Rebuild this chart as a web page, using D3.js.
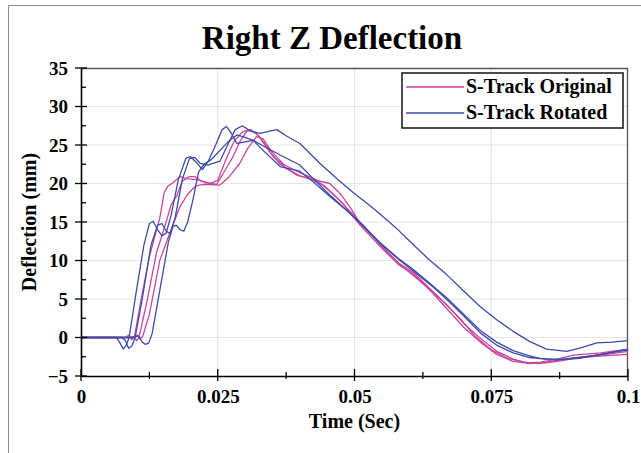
<!DOCTYPE html>
<html>
<head>
<meta charset="utf-8">
<script src="https://cdn.jsdelivr.net/npm/d3@7"></script>
<style>
  body { margin: 0; background: #fff; }
  svg text { font-family: "Liberation Serif", "Times New Roman", serif; font-weight: bold; fill: #000; }
</style>
</head>
<body>
<div id="wrapper"></div>
<script>
// data: [time (s), deflection (mm)]
const seriesNames = ["S-Track Original", "S-Track Rotated"]
const seriesColors = ["#c9469f", "#3c4ca9"]

const originalA = [[0,0],[0.008,0],[0.0088,0.3],[0.0093,-0.3],[0.0098,0.2],[0.011,5],[0.0125,10.5],[0.0144,15.5],[0.0152,18.8],[0.0158,19.6],[0.0168,20.1],[0.0181,20.9],[0.0195,20.6],[0.0212,20.5],[0.023,20.1],[0.0248,19.9],[0.026,21.3],[0.0278,23.5],[0.029,25.4],[0.0303,26.8],[0.0312,26.9],[0.0325,26.2],[0.034,24.6],[0.0364,22.5],[0.0394,21.1],[0.042,20.6],[0.0445,19.7],[0.047,18.0],[0.05,15.8],[0.053,13.4],[0.056,11.0],[0.059,9.1],[0.0625,7.0],[0.066,4.8],[0.0695,2.3],[0.072,0.2],[0.075,-1.6],[0.078,-2.7],[0.081,-3.2],[0.0835,-3.4],[0.086,-3.1],[0.0885,-2.8],[0.092,-2.5],[0.096,-2.2],[0.1,-1.8]]
const originalB = [[0,0],[0.0085,0],[0.0095,0.1],[0.0102,-0.4],[0.0106,0],[0.012,4.5],[0.0138,11],[0.0154,14.6],[0.0165,17.3],[0.0175,18.4],[0.0185,20.3],[0.0198,20.9],[0.0208,20.9],[0.022,20.3],[0.0236,20.0],[0.025,20.4],[0.0266,23.3],[0.028,25.5],[0.0295,26.7],[0.0309,27.0],[0.032,26.5],[0.0335,25.3],[0.035,23.6],[0.0375,22.0],[0.04,21.0],[0.0425,20.5],[0.0455,20.0],[0.0475,18.6],[0.0495,16.6],[0.051,14.8],[0.0547,12.1],[0.058,9.7],[0.0608,8.4],[0.064,6.2],[0.0668,4.3],[0.07,1.8],[0.073,-0.1],[0.076,-1.8],[0.079,-2.8],[0.0815,-3.3],[0.084,-3.2],[0.087,-2.8],[0.09,-2.3],[0.095,-2.0],[0.1,-1.5]]
const originalC = [[0,0],[0.0095,0],[0.0103,0.3],[0.0108,-0.2],[0.0113,0.2],[0.0125,3],[0.0144,10],[0.0162,13.5],[0.0181,17],[0.0195,18.6],[0.021,19.7],[0.0225,19.9],[0.0254,19.8],[0.027,20.8],[0.029,22.6],[0.0305,24.6],[0.0321,26.1],[0.0333,25.8],[0.0348,24.2],[0.037,22.5],[0.04,21.4],[0.043,20.5],[0.0455,19.0],[0.048,17.3],[0.051,14.6],[0.0547,11.8],[0.058,9.5],[0.0608,8.2],[0.064,6.0],[0.0668,3.8],[0.07,1.3],[0.073,-0.6],[0.076,-2.2],[0.079,-3.1],[0.082,-3.4],[0.085,-3.3],[0.088,-3.0],[0.091,-2.6],[0.095,-2.4],[0.1,-2.2]]

const rotatedA = [[0,0],[0.0065,0],[0.0072,-0.8],[0.0077,-1.5],[0.0082,-1.1],[0.0088,0],[0.01,5.5],[0.0115,12],[0.0125,14.8],[0.0132,15.1],[0.014,14.0],[0.0148,13.2],[0.0156,13.6],[0.0165,16],[0.0178,20.5],[0.0192,23.3],[0.02,23.5],[0.021,22.8],[0.0222,21.8],[0.0232,22.8],[0.0245,24.8],[0.0258,27.0],[0.0266,27.4],[0.0275,26.5],[0.0285,25.2],[0.03,25.4],[0.0315,25.6],[0.033,25.0],[0.0364,23.7],[0.04,22.4],[0.0425,20.6],[0.0455,18.5],[0.0486,16.5],[0.0517,14.4],[0.0547,12.3],[0.0578,10.4],[0.0608,8.8],[0.0638,7.0],[0.0668,5.2],[0.07,3.0],[0.073,0.9],[0.076,-0.6],[0.079,-1.7],[0.082,-2.4],[0.0839,-2.7],[0.087,-2.9],[0.0912,-2.7],[0.095,-2.2],[0.1,-1.6]]
const rotatedB = [[0,0],[0.0075,0],[0.0081,-0.4],[0.0087,-1.4],[0.0093,-1.1],[0.0099,0],[0.0112,5],[0.0128,12],[0.014,14.6],[0.0148,14.8],[0.0156,13.8],[0.0163,13.5],[0.0172,15.5],[0.0185,20.5],[0.0198,23.2],[0.0208,23.4],[0.0218,22.6],[0.0232,22.4],[0.0254,22.9],[0.0268,25.0],[0.0282,27.0],[0.0295,27.5],[0.031,26.8],[0.0327,26.5],[0.0345,26.8],[0.0358,27.0],[0.0375,26.2],[0.04,25.2],[0.042,23.8],[0.0437,22.6],[0.047,20.5],[0.0498,18.8],[0.0525,17.3],[0.0547,16.0],[0.0575,14.3],[0.0601,12.5],[0.0635,10.2],[0.0668,8.2],[0.07,6.0],[0.073,4.0],[0.076,2.3],[0.079,0.8],[0.082,-0.5],[0.0851,-1.5],[0.0888,-1.8],[0.0915,-1.3],[0.0943,-0.7],[0.097,-0.6],[0.1,-0.4]]
const rotatedC = [[0,0],[0.0095,0],[0.0105,0.2],[0.0112,-0.6],[0.0118,-0.9],[0.0124,-0.7],[0.013,0.5],[0.0145,6.5],[0.016,12.5],[0.0168,14.4],[0.0174,14.6],[0.0181,14.0],[0.0188,13.8],[0.0195,15.0],[0.0205,18.0],[0.0215,21.5],[0.0225,22.5],[0.0238,23.1],[0.025,24.0],[0.027,25.5],[0.0285,26.3],[0.03,26.0],[0.0315,25.6],[0.033,24.5],[0.0364,22.2],[0.04,21.6],[0.0425,20.2],[0.0455,18.3],[0.0486,16.5],[0.0517,14.5],[0.0547,12.2],[0.0578,10.3],[0.0608,8.6],[0.0638,6.9],[0.0668,5.0],[0.07,2.8],[0.073,0.6],[0.076,-1.0],[0.079,-2.0],[0.082,-2.6],[0.085,-2.8],[0.088,-2.8],[0.0912,-2.6],[0.095,-2.2],[0.1,-1.5]]

const xTicks = [0, 0.025, 0.05, 0.075, 0.1]
const xTickLabels = ["0", "0.025", "0.05", "0.075", "0.1"]
const yTicks = [-5, 0, 5, 10, 15, 20, 25, 30, 35]

const curves = [
  {series: 0, values: originalA},
  {series: 0, values: originalB},
  {series: 0, values: originalC},
  {series: 1, values: rotatedA},
  {series: 1, values: rotatedB},
  {series: 1, values: rotatedC}
]

// dimensions
let dimensions = {
  width: 641,
  height: 453,
  margin: {top: 68, right: 13, bottom: 77, left: 81}
}
dimensions.boundedWidth = dimensions.width - dimensions.margin.left - dimensions.margin.right
dimensions.boundedHeight = dimensions.height - dimensions.margin.top - dimensions.margin.bottom

const svg = d3.select("#wrapper")
  .append("svg")
    .attr("width", dimensions.width)
    .attr("height", dimensions.height)

// outer frame (top and left only visible)
svg.append("path")
  .attr("d", `M8.5,${dimensions.height} V5.5 H${dimensions.width}`)
  .attr("fill", "none")
  .attr("stroke", "#8a8a8a")
  .attr("stroke-width", 1)

const bounds = svg.append("g")
  .attr("transform", `translate(${dimensions.margin.left},${dimensions.margin.top})`)

// scales
const xScale = d3.scaleLinear()
  .domain([0, 0.1])
  .range([0, dimensions.boundedWidth])
const yScale = d3.scaleLinear()
  .domain([-5, 35])
  .range([dimensions.boundedHeight, 0])

// grid
bounds.append("g")
  .selectAll("line")
  .data(xTicks.slice(1, -1))
  .join("line")
    .attr("x1", d => xScale(d)).attr("x2", d => xScale(d))
    .attr("y1", 0).attr("y2", dimensions.boundedHeight)
    .attr("stroke", "#e6e6e6").attr("stroke-width", 1.2)
bounds.append("g")
  .selectAll("line")
  .data(yTicks.slice(1, -1))
  .join("line")
    .attr("x1", 0).attr("x2", dimensions.boundedWidth)
    .attr("y1", d => yScale(d)).attr("y2", d => yScale(d))
    .attr("stroke", "#e6e6e6").attr("stroke-width", 1.2)

// plot frame top/right
bounds.append("path")
  .attr("d", `M0,0.5 H${dimensions.boundedWidth - 0.5} V${dimensions.boundedHeight}`)
  .attr("fill", "none")
  .attr("stroke", "#555")
  .attr("stroke-width", 1.3)

// lines
const lineGen = d3.line()
  .x(d => xScale(d[0]))
  .y(d => yScale(d[1]))

bounds.append("g")
  .selectAll("path")
  .data(curves)
  .join("path")
    .attr("d", d => lineGen(d.values))
    .attr("fill", "none")
    .attr("stroke", d => seriesColors[d.series])
    .attr("stroke-width", 1.3)
    .attr("stroke-linejoin", "round")

// axes
const xAxis = d3.axisBottom(xScale)
  .tickValues(xTicks)
  .tickFormat((d, i) => xTickLabels[i])
  .tickSize(0)
  .tickPadding(14)
const xAxisGroup = bounds.append("g")
  .attr("transform", `translate(0,${dimensions.boundedHeight})`)
  .call(xAxis)
xAxisGroup.select(".domain").attr("stroke", "#000").attr("stroke-width", 1.6)
xAxisGroup.selectAll("text").style("font-size", "19px")

const yAxis = d3.axisLeft(yScale)
  .tickValues(yTicks)
  .tickSize(0)
  .tickPadding(13)
const yAxisGroup = bounds.append("g").call(yAxis)
yAxisGroup.select(".domain").attr("stroke", "#000").attr("stroke-width", 1.6)
yAxisGroup.selectAll("text").style("font-size", "19px")

// crossing tick marks
const xMinor = d3.range(0, 0.1001, 0.0125)
bounds.append("g")
  .selectAll("line")
  .data(xMinor)
  .join("line")
    .attr("x1", d => xScale(d)).attr("x2", d => xScale(d))
    .attr("y1", (d, i) => dimensions.boundedHeight - (i % 2 ? 4 : 7))
    .attr("y2", (d, i) => dimensions.boundedHeight + (i % 2 ? 3 : 5))
    .attr("stroke", "#000").attr("stroke-width", 1.3)
const yMinor = d3.range(-5, 35.01, 2.5)
bounds.append("g")
  .selectAll("line")
  .data(yMinor)
  .join("line")
    .attr("y1", d => yScale(d)).attr("y2", d => yScale(d))
    .attr("x1", (d, i) => (i % 2 ? 0 : -6))
    .attr("x2", (d, i) => (i % 2 ? 5 : 6))
    .attr("stroke", "#000").attr("stroke-width", 1.3)

// titles
svg.append("text")
  .attr("x", 332)
  .attr("y", 49)
  .attr("text-anchor", "middle")
  .style("font-size", "33px")
  .text("Right Z Deflection")

svg.append("text")
  .attr("x", dimensions.margin.left + xScale(0.05))
  .attr("y", 428)
  .attr("text-anchor", "middle")
  .style("font-size", "20px")
  .text("Time (Sec)")

svg.append("text")
  .attr("transform", `translate(36,${dimensions.margin.top + yScale(15)}) rotate(-90)`)
  .attr("text-anchor", "middle")
  .style("font-size", "20px")
  .text("Deflection (mm)")

// legend
const legend = svg.append("g")
  .attr("transform", "translate(402,73)")
legend.append("rect")
  .attr("width", 221)
  .attr("height", 55)
  .attr("fill", "#fff")
  .attr("stroke", "#222")
  .attr("stroke-width", 1.6)
const legendItems = legend.selectAll("g")
  .data(seriesNames)
  .join("g")
    .attr("transform", (d, i) => `translate(0,${14 + i * 26})`)
legendItems.append("line")
  .attr("x1", 4).attr("x2", 62)
  .attr("stroke", (d, i) => seriesColors[i])
  .attr("stroke-width", 1.3)
legendItems.append("text")
  .attr("x", 64)
  .attr("y", 6)
  .style("font-size", "20px")
  .text(d => d)
</script>
</body>
</html>
